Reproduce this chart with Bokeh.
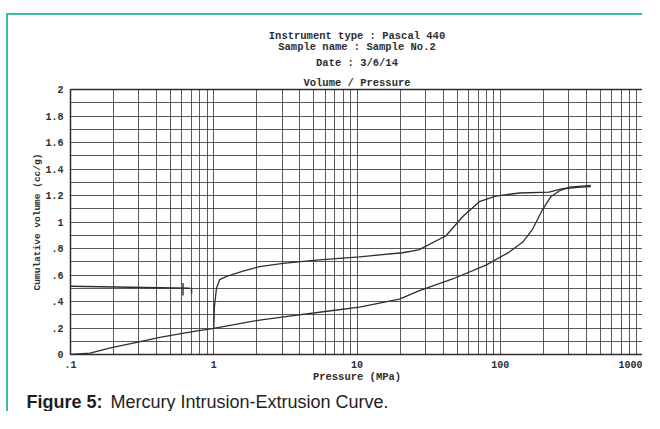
from bokeh.plotting import figure
from bokeh.models import Range1d, FixedTicker, Title
from bokeh.layouts import column
from bokeh.core.properties import value
from bokeh.embed import file_html
from bokeh.resources import INLINE

# ---------------- data ----------------
intrusion_p = [0.1, 0.137, 0.19, 0.29, 0.42, 0.71, 1.0, 2.09, 3.38, 6.78, 10.4,
               19.8, 27, 46.5, 79.5, 115.6, 143, 168, 197, 225, 258, 303, 429]
intrusion_v = [0.0, 0.01, 0.05, 0.092, 0.13, 0.173, 0.197, 0.26, 0.29, 0.332, 0.357,
               0.418, 0.48, 0.57, 0.675, 0.773, 0.847, 0.945, 1.092, 1.19, 1.234, 1.263, 1.276]

extrusion_p = [429, 350, 272, 219, 136, 93, 71.4, 54.6, 41.8, 27, 20.8, 10.4,
               5.2, 3.04, 2.09, 1.6, 1.23, 1.1, 1.045, 1.01, 1.0]
extrusion_v = [1.268, 1.262, 1.251, 1.226, 1.219, 1.195, 1.153, 1.04, 0.896, 0.79, 0.768, 0.737,
               0.712, 0.687, 0.663, 0.63, 0.59, 0.565, 0.50, 0.357, 0.2]

residual_p = [0.1, 0.68]
residual_v = [0.515, 0.50]
mark_p = [0.61, 0.70]
mark_v_low = [0.445, 0.46]
mark_v_high = [0.54, 0.505]

x_ticks = [0.1, 1, 10, 100, 1000]
x_tick_labels = [".1", "1", "10", "100", "1000"]
x_minor_ticks = [m * d for d in (0.1, 1, 10, 100) for m in range(2, 10)]
y_ticks = [0, 0.2, 0.4, 0.6, 0.8, 1, 1.2, 1.4, 1.6, 1.8, 2]
y_tick_labels = ["0", ".2", ".4", ".6", ".8", "1", "1.2", "1.4", "1.6", "1.8", "2"]
y_minor_ticks = [0.1, 0.3, 0.5, 0.7, 0.9, 1.1, 1.3, 1.5, 1.7, 1.9]

header_lines = ["Instrument type : Pascal 440", "Sample name : Sample No.2", "Date : 3/6/14"]
chart_title = "Volume / Pressure"
x_label = "Pressure (MPa)"
y_label = "Cumulative volume (cc/g)"
caption_bold = "Figure 5:"
caption_text = "Mercury Intrusion-Extrusion Curve."

# ---------------- styling ----------------
MONO = "Liberation Mono"
INK = "#2e2e2e"
GRID = "#3c3c3c"
TEAL = "#3dbaa6"
W = 636

p = figure(width=W, height=370, x_axis_type="log",
           x_range=Range1d(0.1, 1000), y_range=Range1d(0, 2),
           output_backend="svg", toolbar_location=None,
           min_border_left=62, min_border_right=1, min_border_top=74, min_border_bottom=26)
p.frame_align = False
p.styles = {"margin-left": "6px", "margin-top": "13px",
            "border-top": f"2px solid {TEAL}", "border-left": f"2px solid {TEAL}"}
p.background_fill_color = "white"
p.border_fill_color = "white"
p.outline_line_color = INK
p.outline_line_width = 1.5

# titles (added bottom-up)
p.add_layout(Title(text=chart_title, align="center", text_font=MONO, text_font_style="bold",
                   text_font_size="10.5px", text_color=INK, standoff=2), "above")
for line, so in zip(reversed(header_lines), (10, -6, 0)):
    p.add_layout(Title(text=line, align="center", text_font=MONO, text_font_style="bold",
                       text_font_size="10.5px", text_color=INK, standoff=so), "above")

# axes
xt = FixedTicker(ticks=x_ticks, minor_ticks=x_minor_ticks)
yt = FixedTicker(ticks=y_ticks, minor_ticks=y_minor_ticks)
p.xaxis.ticker = xt
p.yaxis.ticker = yt
p.xaxis.major_label_overrides = dict(zip(x_ticks, x_tick_labels))
p.yaxis.major_label_overrides = dict(zip(y_ticks, y_tick_labels))
for ax in (p.xaxis, p.yaxis):
    ax.axis_line_color = None
    ax.major_tick_line_color = None
    ax.minor_tick_line_color = None
    ax.major_tick_out = 0
    ax.major_tick_in = 0
    ax.minor_tick_out = 0
    ax.minor_tick_in = 0
    ax.major_label_text_font = MONO
    ax.major_label_text_font_style = "bold"
    ax.major_label_text_font_size = "10px"
    ax.major_label_text_color = INK
    ax.axis_label_text_font = MONO
    ax.axis_label_text_font_style = "bold"
    ax.axis_label_text_color = INK
p.xaxis.major_label_standoff = 6
p.yaxis.major_label_standoff = 7
p.xaxis.axis_label = x_label
p.yaxis.axis_label = y_label
p.xaxis.axis_label_text_font_size = "10.5px"
p.yaxis.axis_label_text_font_size = "9.5px"
p.xaxis.axis_label_standoff = 0
p.yaxis.axis_label_standoff = -1

# grid
for g in (p.xgrid, p.ygrid):
    g.grid_line_color = GRID
    g.grid_line_width = 1
    g.grid_line_alpha = 0.85
    g.minor_grid_line_color = GRID
    g.minor_grid_line_width = 1
    g.minor_grid_line_alpha = 0.85
p.xgrid.ticker = xt
p.ygrid.ticker = yt

# curves
p.line(intrusion_p, intrusion_v, line_color=INK, line_width=1.3)
p.line(extrusion_p, extrusion_v, line_color=INK, line_width=1.3)
p.line(residual_p, residual_v, line_color=INK, line_width=1.6)
p.segment(x0=mark_p, y0=mark_v_low, x1=mark_p, y1=mark_v_high, line_color=INK, line_width=1.4)

# caption strip
CH = 28
cap = figure(width=W, height=CH, x_range=Range1d(0, W), y_range=Range1d(0, CH),
             title=None, output_backend="svg", toolbar_location=None,
             x_axis_location=None, y_axis_location=None,
             min_border=0, min_border_left=0, min_border_right=0,
             min_border_top=0, min_border_bottom=0)
cap.frame_align = False
cap.styles = {"margin-left": "6px", "border-left": f"2px solid {TEAL}"}
cap.outline_line_color = None
cap.grid.visible = False
cap.background_fill_color = "white"
cap.border_fill_color = "white"
cap.text(x=[18], y=[10], text=[caption_bold], text_font=value("Liberation Sans"),
         text_font_style="bold", text_font_size="18px", text_color="#1e1e1e",
         text_baseline="alphabetic")
cap.text(x=[102], y=[10], text=[caption_text], text_font=value("Liberation Sans"),
         text_font_size="18px", text_color="#1e1e1e", text_baseline="alphabetic")

root = column(p, cap, spacing=0)
open("out.html", "w").write(file_html(root, INLINE))
